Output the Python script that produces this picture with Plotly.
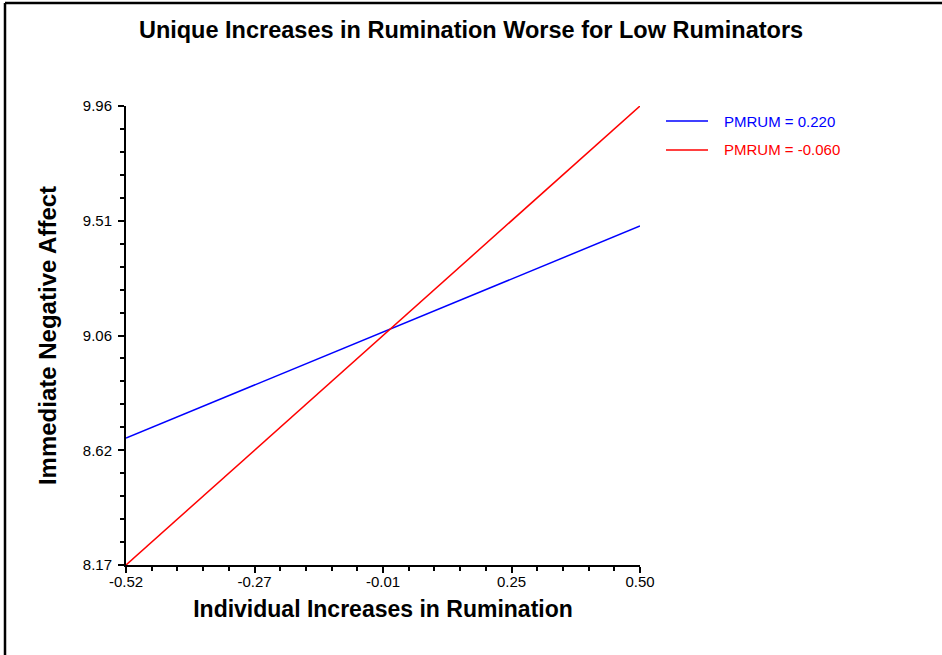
import plotly.graph_objects as go

# Data
x_vals = [-0.52, 0.50]
blue_y = [8.665, 9.492]
red_y = [8.17, 9.96]
series_names = ["PMRUM = 0.220", "PMRUM = -0.060"]
series_colors = ["#0000ff", "#ff0000"]

x_tickvals = [-0.52, -0.265, -0.01, 0.245, 0.50]
x_ticktext = ["-0.52", "-0.27", "-0.01", "0.25", "0.50"]
y_tickvals = [8.17, 8.6175, 9.065, 9.5125, 9.96]
y_ticktext = ["8.17", "8.62", "9.06", "9.51", "9.96"]

FONT = "Arial, 'Liberation Sans', sans-serif"

fig = go.Figure()
for ys, name, col in zip([blue_y, red_y], series_names, series_colors):
    fig.add_trace(go.Scatter(
        x=x_vals, y=ys, mode="lines",
        line=dict(color=col, width=1.5),
        name=name, showlegend=False,
    ))

L, R, T, B = 126, 302, 106, 90
W, H = 942, 655
pw, ph = W - L - R, H - T - B

def px_x(p):
    return (p - L) / pw

def px_y(p):
    return 1 - (p - T) / ph

fig.update_layout(
    width=W, height=H,
    margin=dict(l=L, r=R, t=T, b=B),
    paper_bgcolor="white", plot_bgcolor="white",
    font=dict(family=FONT, size=15, color="black"),
    title=dict(text="<b>Unique Increases in Rumination Worse for Low Ruminators</b>",
               x=0.5, xref="container", xanchor="center", y=1 - 30 / H, yanchor="middle",
               font=dict(size=23.5, family=FONT)),
    xaxis=dict(range=[-0.52, 0.50], tickvals=x_tickvals, ticktext=x_ticktext,
               showgrid=False, zeroline=False, showline=True, linecolor="black", linewidth=2,
               ticks="outside", ticklen=6, tickwidth=2, tickcolor="black",
               minor=dict(tick0=-0.52, dtick=0.051, ticks="outside", ticklen=4, tickwidth=1.5,
                          tickcolor="black", showgrid=False),
               title=dict(text="<b>Individual Increases in Rumination</b>",
                          font=dict(size=23, family=FONT), standoff=12),
               tickfont=dict(size=15), ticklabelstandoff=-4),
    yaxis=dict(range=[8.17, 9.96], tickvals=y_tickvals, ticktext=y_ticktext,
               showgrid=False, zeroline=False, showline=True, linecolor="black", linewidth=2,
               ticks="outside", ticklen=6, tickwidth=2, tickcolor="black",
               minor=dict(tick0=8.17, dtick=0.0895, ticks="outside", ticklen=4, tickwidth=1.5,
                          tickcolor="black", showgrid=False),
               title=dict(text="<b>Immediate Negative Affect</b>",
                          font=dict(size=24, family=FONT), standoff=19),
               tickfont=dict(size=15), ticklabelstandoff=3),
)

# Manual legend (line samples + coloured labels)
legend_rows = [121, 150]
for yy, name, col in zip(legend_rows, series_names, series_colors):
    fig.add_shape(type="line", xref="paper", yref="paper",
                  x0=px_x(666), x1=px_x(708), y0=px_y(yy), y1=px_y(yy),
                  line=dict(color=col, width=1.5))
    fig.add_annotation(xref="paper", yref="paper", x=px_x(722), y=px_y(yy),
                       xanchor="left", yanchor="middle", showarrow=False,
                       text=name, font=dict(size=15, color=col, family=FONT))

# Frame (left and top edges)
fx = px_x(5)
fy = px_y(3)
fig.add_shape(type="line", xref="paper", yref="paper", x0=fx, x1=fx, y0=fy, y1=px_y(H + 10),
              line=dict(color="black", width=2.5))
fig.add_shape(type="line", xref="paper", yref="paper", x0=fx, x1=px_x(W + 10), y0=fy, y1=fy,
              line=dict(color="black", width=2.5))

fig.write_html("out.html", config={"displayModeBar": False},
               post_script="document.body.style.margin='0';")
